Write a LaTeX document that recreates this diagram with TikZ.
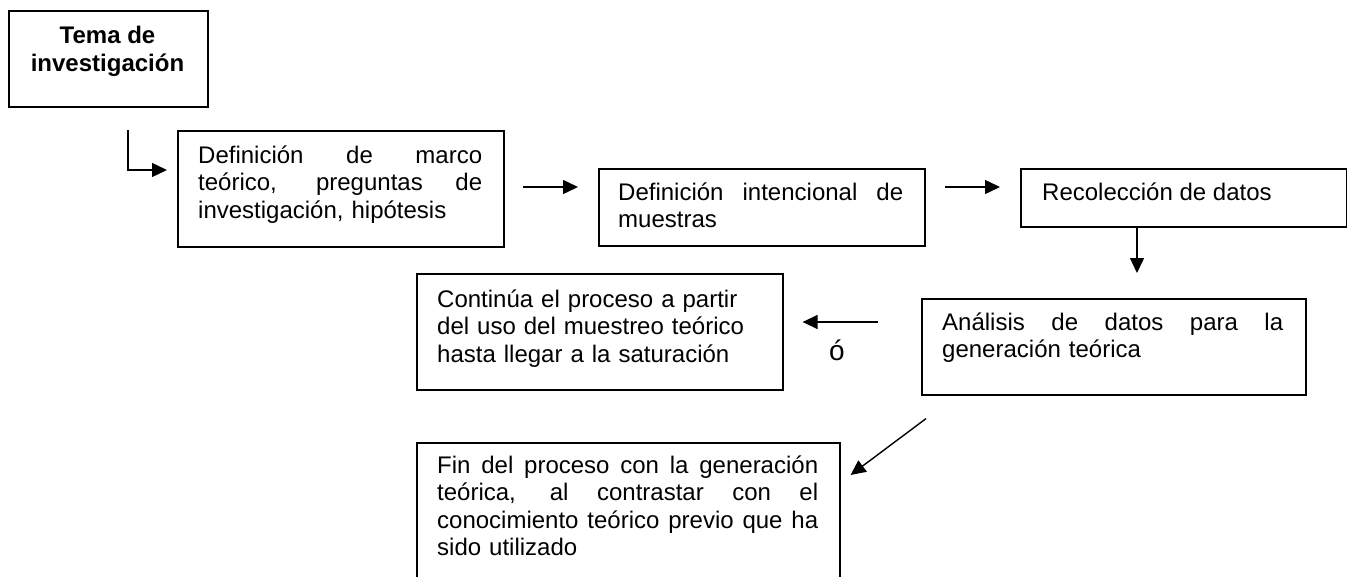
\documentclass[tikz,border=0pt]{standalone}
\usepackage{fontspec}
\setmainfont{Liberation Sans}
\usetikzlibrary{arrows.meta,calc}
\newcommand{\sline}[2]{\leavevmode\hbox to #1{\spaceskip=0.278em plus 1fil\relax #2}}
\tikzset{
  boxst/.style={draw, line width=1.6pt, rectangle, inner sep=0pt, anchor=north west},
  txt/.style={inner sep=0pt, anchor=base west, align=left, font=\fontsize{24}{27.6}\selectfont},
  arr/.style={-{Triangle[length=15pt,width=14pt]}, line width=1.4pt},
}
\begin{document}
\begin{tikzpicture}[x=1pt,y=-1pt]
\useasboundingbox (0,0) rectangle (1347,576);
\clip (0,0) rectangle (1347,576);
% boxes
\node[boxst, minimum width=199pt, minimum height=96pt] (box1) at (8,10) {};
\node[boxst, minimum width=326pt, minimum height=116pt] (box2) at (177,130) {};
\node[boxst, minimum width=326pt, minimum height=77pt] (box3) at (598,168) {};
\node[boxst, minimum width=326pt, minimum height=58pt] (box4) at (1020,168) {};
\node[boxst, minimum width=384pt, minimum height=96pt] (box5) at (921,298) {};
\node[boxst, minimum width=366pt, minimum height=116pt] (box6) at (416,273) {};
\node[boxst, minimum width=423pt, minimum height=170pt] (box7) at (416,442) {};
% texts
\node[txt, anchor=base, align=center, font=\fontsize{24}{28}\selectfont\bfseries] (t1) at (107.5,71) {Tema de\\investigación};
\node[txt, text width=284pt] (t2) at (198,163) {\sline{284pt}{Definición de marco}\\\sline{284pt}{teórico, preguntas de}\\investigación, hipótesis};
\node[txt, text width=285pt] (t3) at (618,200) {\sline{285pt}{Definición intencional de}\\muestras};
\node[txt] (t4) at (1042,200) {Recolección de datos};
\node[txt, text width=341pt] (t5) at (942,330) {\sline{341pt}{Análisis de datos para la}\\generación teórica};
\node[txt, text width=320pt] (t6) at (437,307) {Continúa el proceso a partir\\del uso del muestreo teórico\\hasta llegar a la saturación};
\node[txt, text width=381pt] (t7) at (437,473) {\sline{381pt}{Fin del proceso con la generación}\\\sline{381pt}{teórica, al contrastar con el}\\\sline{381pt}{conocimiento teórico previo que ha}\\sido utilizado};
\node[txt, anchor=base, font=\fontsize{28}{30}\selectfont] (o) at (837,360) {ó};
% connectors
\coordinate (ls) at (128,130);
\draw[arr] (ls) |- ($(box2.north west)+(-10,40)$);
\draw[arr] ($(box2.north east)+(18,57)$) -- ($(box3.north west)+(-20,19)$);
\draw[arr] ($(box3.north east)+(19,19)$) -- ($(box4.north west)+(-20,19)$);
\draw[arr] ($(box4.south west)+(117,0)$) -- ($(box5.north west)+(216,-25)$);
\draw[arr] ($(box5.north west)+(-43,24)$) -- ($(box6.north east)+(19,49)$);
\draw[arr] ($(box5.south west)+(5,23)$) -- ($(box7.north east)+(10,33)$);
\end{tikzpicture}
\end{document}
